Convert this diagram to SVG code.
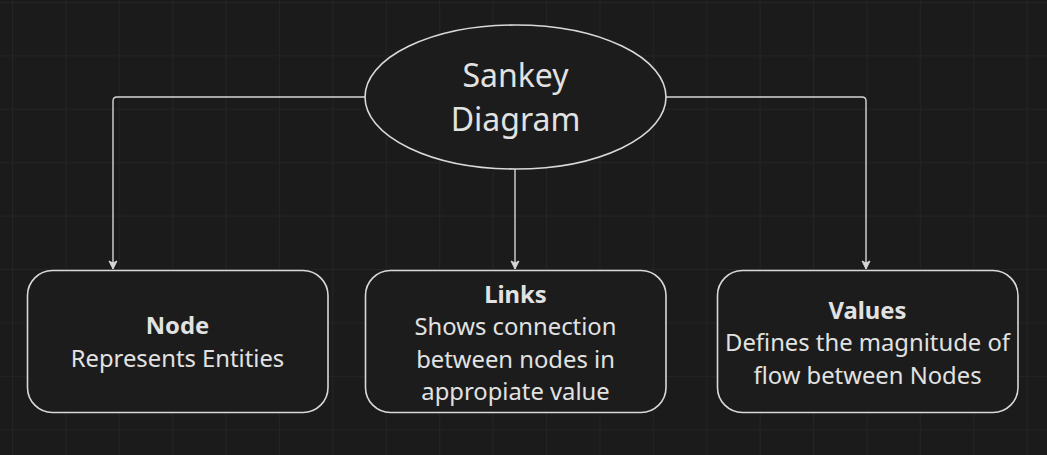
<svg xmlns="http://www.w3.org/2000/svg" width="1047" height="455" viewBox="0 0 1047 455">
  <defs>
    <pattern id="grid" patternUnits="userSpaceOnUse" x="12" y="2" width="53.4" height="53.4">
      <path d="M0 0H53.4M0 0V53.4" fill="none" stroke="#242424" stroke-width="2"/>
    </pattern>
    <marker id="arrow" viewBox="0 0 10 10" refX="9" refY="5" markerWidth="10" markerHeight="10" markerUnits="userSpaceOnUse" orient="auto">
      <path d="M1 1L9 5L1 9L3 5Z" fill="#d6d6d6" stroke="#d6d6d6" stroke-width="1" stroke-linejoin="round"/>
    </marker>
    <style>
      .shape { fill: #1c1c1c; stroke: #d9d9d9; stroke-width: 1.6; }
      .conn { fill: none; stroke: #d6d6d6; stroke-width: 1.4; marker-end: url(#arrow); }
      text { font-family: "Noto Sans", "Open Sans", "Liberation Sans", sans-serif; fill: #e2e2e2; text-anchor: middle; }
      .title { font-size: 32px; }
      .body { font-size: 23.8px; }
      .bold { font-size: 23.8px; font-weight: bold; }
    </style>
  </defs>
  <rect width="1047" height="455" fill="#1b1b1b"/>
  <rect width="1047" height="455" fill="url(#grid)"/>

  <g id="connectors">
    <path class="conn" d="M365 97H117Q113 97 113 101V269"/>
    <path class="conn" d="M515 169V269"/>
    <path class="conn" d="M666 97H862Q866 97 866 101V269"/>
  </g>

  <g id="sankey">
    <ellipse class="shape" cx="515.5" cy="97" rx="150.5" ry="72"/>
    <text class="title" x="515.5" y="87">Sankey</text>
    <text class="title" x="515.5" y="131">Diagram</text>
  </g>

  <g id="node">
    <rect class="shape" x="27.5" y="270.5" width="300.5" height="142" rx="25"/>
    <text class="bold" x="177.5" y="334">Node</text>
    <text class="body" x="177.5" y="366.5">Represents Entities</text>
  </g>

  <g id="links">
    <rect class="shape" x="365.5" y="270.5" width="300.5" height="142" rx="25"/>
    <text class="bold" x="515.5" y="302.5">Links</text>
    <text class="body" x="515.5" y="335">Shows connection</text>
    <text class="body" x="515.5" y="367.5">between nodes in</text>
    <text class="body" x="515.5" y="399.5">appropiate value</text>
  </g>

  <g id="values">
    <rect class="shape" x="717.5" y="270.5" width="300.5" height="142" rx="25"/>
    <text class="bold" x="867.5" y="318.5">Values</text>
    <text class="body" x="867.5" y="351">Defines the magnitude of</text>
    <text class="body" x="867.5" y="383.5">flow between Nodes</text>
  </g>
</svg>
